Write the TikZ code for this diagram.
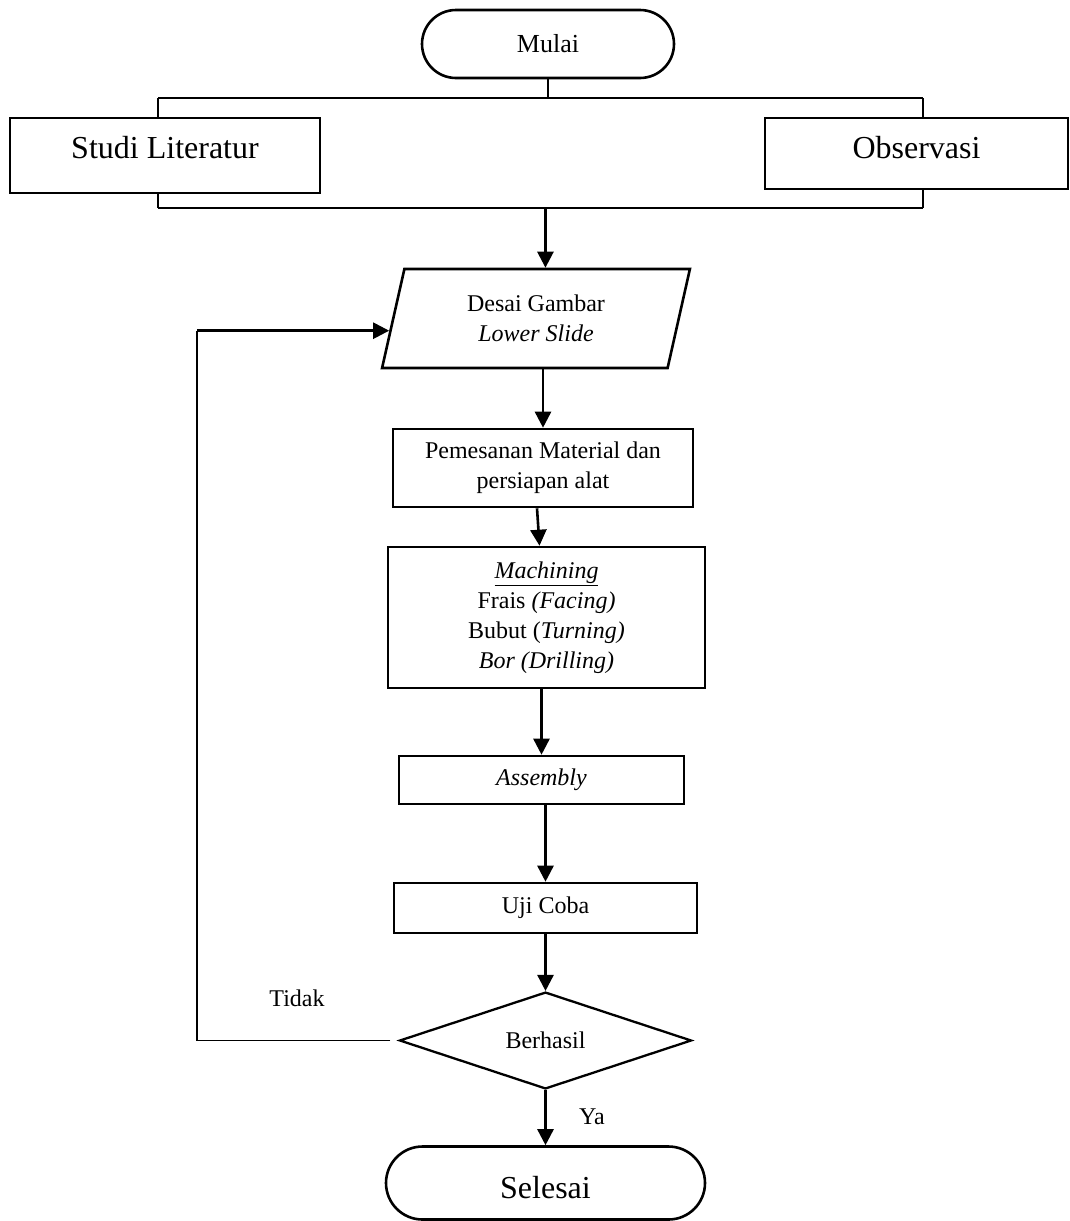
\documentclass[tikz,border=0pt]{standalone}
\usepackage{fontspec}
\setmainfont{Liberation Serif}
\usetikzlibrary{shapes.geometric,shapes.misc,arrows.meta,calc}
\tikzset{
  base/.style={draw, line width=2.6pt, align=center, inner sep=0pt, font=\fontsize{24}{30}\selectfont},
  proc/.style={base, rectangle},
  bigproc/.style={base, rectangle, font=\fontsize{32}{38}\selectfont},
  term/.style={base, rounded rectangle},
  io/.style={base, trapezium, trapezium left angle=76, trapezium right angle=104, trapezium stretches=true},
  decision/.style={base, diamond, line width=2.3pt},
  arr/.style={line width=2.6pt, -{Triangle[width=16pt,length=16pt]}},
  thinline/.style={line width=1.3pt},
  lbl/.style={font=\fontsize{24}{30}\selectfont, inner sep=0pt}
}
\begin{document}
\begin{tikzpicture}[x=1pt,y=-1pt]
\useasboundingbox[fill=white] (0,0) rectangle (1070,1221);

\node[term, minimum width=252, minimum height=68, font=\fontsize{26}{30}\selectfont] (mulai) at (548,44) {Mulai};
\node[bigproc, minimum width=310, minimum height=75, text depth=16pt] (studi) at (165,155.5) {Studi Literatur};
\node[bigproc, minimum width=303, minimum height=71, text depth=13pt] (obs) at (916.5,153.5) {Observasi};

\coordinate (tl) at (158,98);
\coordinate (tr) at (923,98);
\coordinate (bl) at (158,208);
\coordinate (br) at (923,208);

\draw[thinline] (mulai.south) -- (mulai.south |- tl);
\draw[thinline] (tl) -- (tr);
\draw[thinline] (tl) -- (tl |- studi.north);
\draw[thinline] (tr) -- (tr |- obs.north);
\draw[thinline] (bl) -- (br);
\draw[thinline] (bl) -- (bl |- studi.south);
\draw[thinline] (br) -- (br |- obs.south);

\node[io, minimum width=308, minimum height=99] (desai) at (536,318.5) {Desai Gambar\\\textit{Lower Slide}};
\coordinate (dtop) at ($(desai.top left corner)!0.5!(desai.top right corner)$);
\draw[arr] ([xshift=-2pt]dtop |- bl) -- ([xshift=-2pt]dtop);

\node[proc, minimum width=300, minimum height=78] (pem) at (543,468) {Pemesanan Material dan\\persiapan alat};
\draw[arr] (pem.north |- desai.south) -- (pem.north);

\node[proc, minimum width=317, minimum height=141] (mach) at (546.5,617.5) {\underline{\textit{Machining}}\\Frais \textit{(Facing)}\\Bubut (\textit{Turning)}\\\textit{Bor (Drilling)}};
\draw[arr] ([xshift=-6pt]pem.south) -- ([xshift=-7pt]mach.north);

\node[proc, minimum width=285, minimum height=48] (asm) at (541.5,780) {\textit{Assembly}};
\draw[arr] (asm.north |- mach.south) -- (asm.north);

\node[proc, minimum width=303, minimum height=50] (uji) at (545.5,908) {Uji Coba};
\draw[arr] (uji.north |- asm.south) -- (uji.north);

\node[decision, minimum width=292, minimum height=89] (dia) at (545.5,1040.5) {Berhasil};
\draw[arr] (uji.south) -- (dia.north);

\node[term, minimum width=319, minimum height=73, font=\fontsize{32}{38}\selectfont, text height=31pt] (sel) at (545.5,1183) {Selesai};
\draw[arr] (dia.south) -- (sel.north);
\node[lbl] (ya) at (592,1117) {Ya};

\coordinate (target) at ($(desai.bottom left corner)!0.38!(desai.top left corner)$);
\coordinate (fbc) at (197,0);
\draw[thinline] ([xshift=-8pt]dia.west) -- (fbc |- dia.west) -- (fbc |- target);
\draw[arr] (fbc |- target) -- (target);
\node[lbl] (tidak) at (297,998) {Tidak};
\end{tikzpicture}
\end{document}
